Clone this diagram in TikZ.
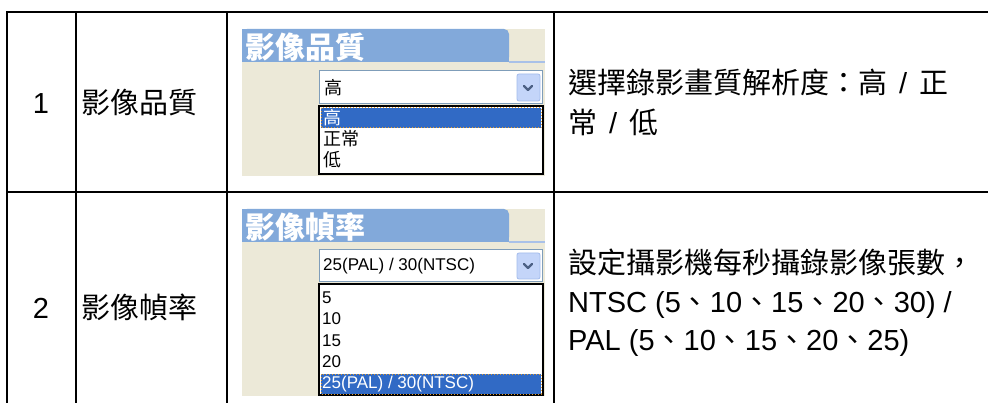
\documentclass[tikz,border=0pt]{standalone}
\usepackage{fontspec}
\setmainfont{Liberation Sans}
\newfontfamily\cjk{Noto Sans CJK TC}

% colours of the screenshots
\definecolor{xpbeige}{HTML}{ECE9D8}
\definecolor{tabblue}{HTML}{82A9DA}
\definecolor{tabline}{HTML}{A9C1E8}
\definecolor{combo}{HTML}{7F9DB9}
\definecolor{btnblue}{HTML}{C4D5F9}
\definecolor{btnline}{HTML}{A4BCEC}
\definecolor{chev}{HTML}{4D6185}
\definecolor{pick}{HTML}{316AC5}
\definecolor{focus}{HTML}{E39B2C}

\newcommand{\wideslash}{\hspace{12pt}/\hspace{12pt}}

\tikzset{
  grid/.style={line width=2.5pt, line cap=rect},
  txt/.style={inner sep=0pt, anchor=west, font=\fontsize{29pt}{40pt}\selectfont},
  num/.style={inner sep=0pt, font=\fontsize{29pt}{29pt}\selectfont},
  title/.style={inner sep=0pt, anchor=west, text=white, font=\cjk\bfseries\fontsize{30pt}{30pt}\selectfont},
  uitxt/.style={inner sep=0pt, anchor=west, font=\fontsize{17pt}{17pt}\selectfont},
  uicjk/.style={inner sep=0pt, anchor=west, font=\cjk\fontsize{18pt}{18pt}\selectfont},
  listbox/.style={fill=white, draw=black, line width=1.5pt},
  combobox/.style={fill=white, draw=combo, line width=1pt},
  button/.style={fill=btnblue, draw=btnline, line width=0.8pt, rounded corners=2pt},
  chevron/.style={draw=chev, line width=2.2pt, line cap=round, line join=round},
  picked/.style={fill=pick, draw=focus, dotted, line width=1pt}
}

\begin{document}
\begin{tikzpicture}[x=1pt, y=-1pt]
    \useasboundingbox (0,0) rectangle (988,403);

    % Screenshot 1: picture quality
    \fill[xpbeige] (242,29) rectangle (545,176);
    \fill[tabblue, rounded corners=5pt] (242,29) rectangle (509,62);
    \fill[tabblue] (242,29) rectangle (252,39);
    \fill[tabblue] (242,52) rectangle (509,62);
    \draw[tabline, line width=1.2pt] (509,62) -- (545,62);
    \node[title] (qtitle) at (245,47) {影像品質};
    \draw[combobox] (319,71) rectangle (542,104);
    \draw[button] (517,74) rectangle (540,101);
    \draw[chevron] (524,86) -- (528,90) -- (532,86);
    \node[uicjk] (qsel) at (324,88) {高};
    \draw[listbox] (319,106) rectangle (543,174);
    \draw[picked] (321,108) rectangle (541,128);
    \node[uicjk, text=white] (qhigh) at (323,118) {高};
    \node[uicjk] (qnorm) at (323,139) {正常};
    \node[uicjk] (qlow) at (323,160) {低};

    % Screenshot 2: frame rate
    \fill[xpbeige] (242,209) rectangle (545,396);
    \fill[tabblue, rounded corners=5pt] (242,209) rectangle (509,242);
    \fill[tabblue] (242,209) rectangle (252,219);
    \fill[tabblue] (242,232) rectangle (509,242);
    \draw[tabline, line width=1.2pt] (509,242) -- (545,242);
    \node[title] (ftitle) at (245,227) {影像幀率};
    \draw[combobox] (319,250) rectangle (542,282);
    \draw[button] (517,253) rectangle (540,279);
    \draw[chevron] (524,264) -- (528,268) -- (532,264);
    \node[uitxt] (fsel) at (323,266) {25(PAL) / 30(NTSC)};
    \draw[listbox] (319,284) rectangle (543,395);
    \node[uitxt] (f5) at (322,298) {5};
    \node[uitxt] (f10) at (322,319) {10};
    \node[uitxt] (f15) at (322,341) {15};
    \node[uitxt] (f20) at (322,362) {20};
    \draw[picked] (321,374) rectangle (541,394);
    \node[uitxt, text=white] (f25) at (322,384) {25(PAL) / 30(NTSC)};

    % Table rules
    \draw[grid] (7,12) -- (988,12);
    \draw[grid] (7,192) -- (988,192);
    \draw[grid] (7,12) -- (7,403);
    \draw[grid] (76,12) -- (76,403);
    \draw[grid] (227,12) -- (227,403);
    \draw[grid] (554,12) -- (554,403);

    % Row 1
    \node[num] (n1) at (41,104) {1};
    \node[txt] (name1) at (81,103) {\cjk 影像品質};
    \node[txt, align=left] (desc1) at (568,102)
      {{\cjk 選擇錄影畫質解析度：高}\wideslash{\cjk 正}\\{\cjk 常}\wideslash{\cjk 低}};

    % Row 2
    \node[num] (n2) at (41,308) {2};
    \node[txt] (name2) at (81,307) {\cjk 影像幀率};
    \node[txt, align=left, font=\fontsize{29pt}{38.5pt}\selectfont] (desc2) at (568,303)
      {{\cjk 設定攝影機每秒攝錄影像張數，}\\
       NTSC (5{\cjk 、}10{\cjk 、}15{\cjk 、}20{\cjk 、}30) /\\
       PAL (5{\cjk 、}10{\cjk 、}15{\cjk 、}20{\cjk 、}25)};
\end{tikzpicture}
\end{document}
